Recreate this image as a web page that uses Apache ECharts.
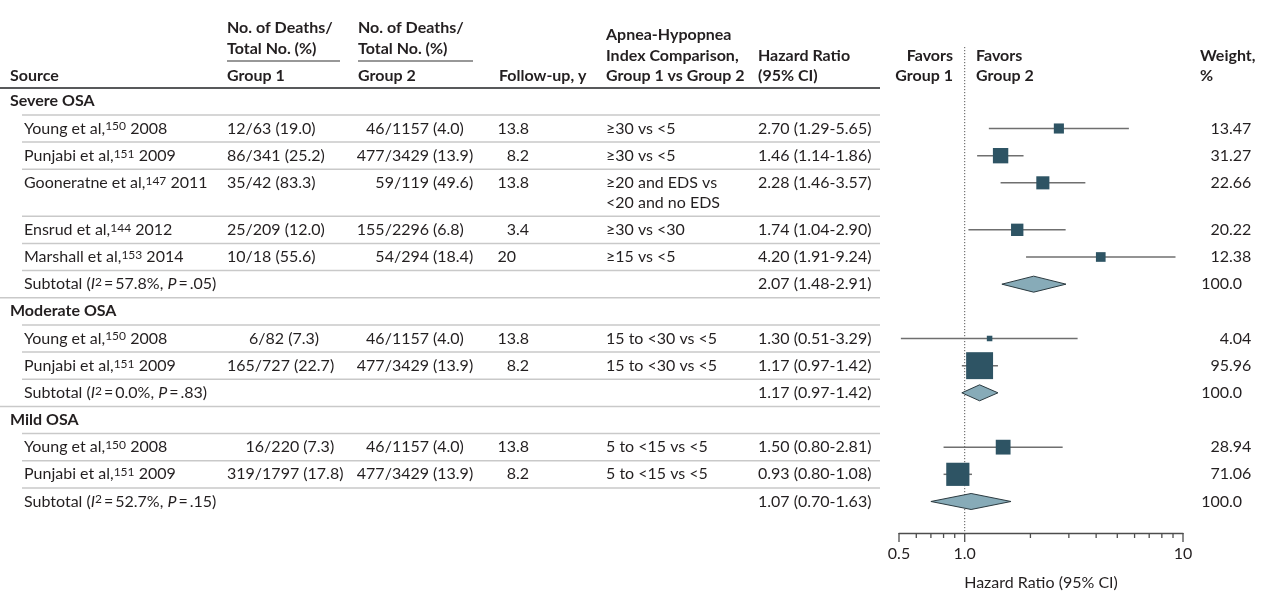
<!DOCTYPE html>
<html><head><meta charset="utf-8">
<script src="https://cdn.jsdelivr.net/npm/echarts@6/dist/echarts.min.js"></script>
<style>html,body{margin:0;padding:0;background:#fff}#chart{width:1265px;height:596px}</style>
</head><body><div id="chart"></div>
<script>
// ---------------- DATA ----------------
const groupNames = ['Severe OSA', 'Moderate OSA', 'Mild OSA'];
const studyGroup = [0, 0, 0, 0, 0, 1, 1, 2, 2];
const studyAuthors = ['Young et al,', 'Punjabi et al,', 'Gooneratne et al,', 'Ensrud et al,', 'Marshall et al,', 'Young et al,', 'Punjabi et al,', 'Young et al,', 'Punjabi et al,'];
const studyRefs = ['150', '151', '147', '144', '153', '150', '151', '150', '151'];
const studyYears = ['2008', '2009', '2011', '2012', '2014', '2008', '2009', '2008', '2009'];
const group1Deaths = ['12/63 (19.0)', '86/341 (25.2)', '35/42 (83.3)', '25/209 (12.0)', '10/18 (55.6)', '\u2007\u2007\u20086/82 (7.3)', '165/727 (22.7)', '\u2007\u200716/220 (7.3)', '319/1797 (17.8)'];
const group2Deaths = ['46/1157 (4.0)', '477/3429 (13.9)', '59/119 (49.6)', '155/2296 (6.8)', '54/294 (18.4)', '46/1157 (4.0)', '477/3429 (13.9)', '46/1157 (4.0)', '477/3429 (13.9)'];
const followUp = ['13.8', '8.2', '13.8', '3.4', '20', '13.8', '8.2', '13.8', '8.2'];
const ahiComparison = ['\u226530 vs <5', '\u226530 vs <5', '\u226520 and EDS vs\n<20 and no EDS', '\u226530 vs <30', '\u226515 vs <5', '15 to <30 vs <5', '15 to <30 vs <5', '5 to <15 vs <5', '5 to <15 vs <5'];
const studyHR = [2.70, 1.46, 2.28, 1.74, 4.20, 1.30, 1.17, 1.50, 0.93];
const studyLower = [1.29, 1.14, 1.46, 1.04, 1.91, 0.51, 0.97, 0.80, 0.80];
const studyUpper = [5.65, 1.86, 3.57, 2.90, 9.24, 3.29, 1.42, 2.81, 1.08];
const studyWeight = [13.47, 31.27, 22.66, 20.22, 12.38, 4.04, 95.96, 28.94, 71.06];
const subtotalI2 = ['57.8', '0.0', '52.7'];
const subtotalP = ['.05', '.83', '.15'];
const subtotalHR = [2.07, 1.17, 1.07];
const subtotalLower = [1.48, 0.97, 0.70];
const subtotalUpper = [2.91, 1.42, 1.63];
const subtotalWeight = [100.0, 100.0, 100.0];
const axisTickValues = [0.5, 0.6, 0.7, 0.8, 0.9, 1, 2, 3, 4, 5, 6, 7, 8, 9, 10];
const axisLabelValues = [0.5, 1, 10];
const axisLabelTexts = ['0.5', '1.0', '10'];

// ---------------- LAYOUT ----------------
const FONT = 'Lato, "Open Sans", sans-serif';
const FS = 16;
const TEXT = '#231f20';
const LINE_UNIT = 20 / 27.4;   // extra text line, in row units
const Y_MIN = -1.5;

const rows = [];
let pos = 0;
groupNames.forEach((g, gi) => {
  rows.push({ type: 'group', gi, top: pos }); pos += 1;
  studyGroup.forEach((sg, si) => {
    if (sg !== gi) return;
    const lines = ahiComparison[si].split('\n').length;
    rows.push({ type: 'study', si, top: pos });
    pos += 1 + (lines - 1) * LINE_UNIT;
  });
  rows.push({ type: 'subtotal', gi, top: pos }); pos += 1;
});
const Y_MAX = pos + 0.66;

const forestData = [];
rows.forEach(r => {
  if (r.type === 'study') forestData.push([studyHR[r.si], r.top + 0.5, studyLower[r.si], studyUpper[r.si], studyWeight[r.si], 0]);
  if (r.type === 'subtotal') forestData.push([subtotalHR[r.gi], r.top + 0.5, subtotalLower[r.gi], subtotalUpper[r.gi], subtotalWeight[r.gi], 1]);
});

function txt(x, y, text, align, extra) {
  return { type: 'text', x, y, style: Object.assign({ text, fill: TEXT, fontSize: FS, fontFamily: FONT, align: align || 'left', verticalAlign: 'middle' }, extra || {}) };
}
const richBase = {
  n: { fontSize: FS, fontFamily: FONT, fill: TEXT },
  i: { fontSize: FS, fontFamily: FONT, fill: TEXT, fontStyle: 'italic' },
  s: { fontSize: 12, fontFamily: FONT, fill: TEXT, verticalAlign: 'top', lineHeight: 12 }
};
const fmt2 = v => v.toFixed(2);

function renderTable(params, api) {
  const r = rows[params.dataIndex];
  const yTop = api.coord([1, r.top])[1];
  const yc = api.coord([1, r.top + 0.5])[1];
  const gap = api.coord([1, r.top + 0.5 + LINE_UNIT])[1] - yc;
  const ch = [];
  if (r.top > 0) {
    ch.push({ type: 'line', shape: { x1: r.type === 'group' ? 0 : 22, y1: yTop, x2: 880, y2: yTop }, style: { stroke: '#c9c9c9', lineWidth: 1.5 } });
  }
  if (r.type === 'group') {
    ch.push(txt(10, yc, groupNames[r.gi], 'left', { fontWeight: 'bold' }));
  } else if (r.type === 'study') {
    const i = r.si;
    ch.push({ type: 'text', x: 24, y: yc, style: { text: '{n|' + studyAuthors[i] + '}{s|' + studyRefs[i] + '}{n| ' + studyYears[i] + '}', rich: richBase, align: 'left', verticalAlign: 'middle', fill: TEXT, fontSize: FS, fontFamily: FONT } });
    ch.push(txt(227, yc, group1Deaths[i]));
    const g2 = group2Deaths[i].split(' (');
    ch.push(txt(429, yc, g2[0], 'right'));
    ch.push(txt(433, yc, '(' + g2[1]));
    const fu = followUp[i].split('.');
    ch.push(txt(516, yc, fu[0], 'right'));
    if (fu.length > 1) ch.push(txt(516, yc, '.' + fu[1]));
    ahiComparison[i].split('\n').forEach((t, k) => ch.push(txt(606, yc + k * gap, t)));
    ch.push(txt(758, yc, fmt2(studyHR[i]) + ' (' + fmt2(studyLower[i]) + '-' + fmt2(studyUpper[i]) + ')'));
    const w = fmt2(studyWeight[i]).split('.');
    ch.push(txt(1229, yc, w[0], 'right'));
    ch.push(txt(1229, yc, '.' + w[1]));
  } else {
    const g = r.gi;
    ch.push({ type: 'text', x: 24, y: yc, style: { text: '{n|Subtotal (}{i|I}{s|2}{n|\u2009=\u2009' + subtotalI2[g] + '%, }{i|P}{n|\u2009=\u2009' + subtotalP[g] + ')}', rich: richBase, align: 'left', verticalAlign: 'middle', fill: TEXT, fontSize: FS, fontFamily: FONT } });
    ch.push(txt(758, yc, fmt2(subtotalHR[g]) + ' (' + fmt2(subtotalLower[g]) + '-' + fmt2(subtotalUpper[g]) + ')'));
    const w = subtotalWeight[g].toFixed(1).split('.');
    ch.push(txt(1229, yc, w[0], 'right'));
    ch.push(txt(1229, yc, '.' + w[1]));
  }
  return { type: 'group', children: ch };
}

function renderForest(params, api) {
  const hr = api.value(0), y = api.value(1), lo = api.value(2), hi = api.value(3), w = api.value(4), kind = api.value(5);
  const c = api.coord([hr, y]), l = api.coord([lo, y]), h = api.coord([hi, y]);
  if (kind === 1) {
    return { type: 'polygon', shape: { points: [[l[0], c[1]], [c[0], c[1] - 8], [h[0], c[1]], [c[0], c[1] + 8]] }, style: { fill: '#87abb8', stroke: '#2b3a40', lineWidth: 1 } };
  }
  const s = 2.75 * Math.sqrt(w);
  return { type: 'group', children: [
    { type: 'line', shape: { x1: l[0], y1: c[1], x2: h[0], y2: c[1] }, style: { stroke: '#6f6f6f', lineWidth: 1.5 } },
    { type: 'rect', shape: { x: c[0] - s / 2, y: c[1] - s / 2, width: s, height: s }, style: { fill: '#2e5464' } }
  ] };
}

function renderTicks(params, api) {
  const v = api.value(0);
  const p = api.coord([v, Y_MAX]);
  const li = axisLabelValues.indexOf(v);
  const ch = [{ type: 'line', shape: { x1: p[0], y1: p[1], x2: p[0], y2: p[1] + (li >= 0 ? 9 : 5) }, style: { stroke: '#4d4d4d', lineWidth: 1.3 } }];
  if (li >= 0) ch.push(txt(p[0], p[1] + 21, axisLabelTexts[li], 'center'));
  return { type: 'group', children: ch };
}

function hText(x, y, text, align, bold) {
  return { type: 'text', x, y, style: { text, fill: TEXT, fontSize: FS, fontFamily: FONT, fontWeight: bold === false ? 'normal' : 'bold', align: align || 'left', verticalAlign: 'middle' } };
}
const headerElements = [
  hText(10, 76, 'Source'),
  hText(227, 28, 'No. of Deaths/'), hText(227, 49, 'Total No. (%)'), hText(227, 76, 'Group 1'),
  hText(358, 28, 'No. of Deaths/'), hText(358, 49, 'Total No. (%)'), hText(358, 76, 'Group 2'),
  hText(499, 76, 'Follow-up, y'),
  hText(606, 35, 'Apnea-Hypopnea'), hText(606, 56, 'Index Comparison,'), hText(606, 76, 'Group 1 vs Group 2'),
  hText(758, 56, 'Hazard Ratio'), hText(758, 76, '(95% CI)'),
  hText(953, 56, 'Favors', 'right'), hText(953, 76, 'Group 1', 'right'),
  hText(976, 56, 'Favors'), hText(976, 76, 'Group 2'),
  hText(1200, 56, 'Weight,'), hText(1200, 76, '%'),
  { type: 'line', shape: { x1: 227, y1: 61, x2: 340, y2: 61 }, style: { stroke: '#333', lineWidth: 1.2 } },
  { type: 'line', shape: { x1: 358, y1: 61, x2: 473, y2: 61 }, style: { stroke: '#333', lineWidth: 1.2 } },
  { type: 'line', shape: { x1: 0, y1: 88, x2: 880, y2: 88 }, style: { stroke: '#58595b', lineWidth: 2.2 } }
];

const chart = echarts.init(document.getElementById('chart'), null, { renderer: 'canvas' });
chart.setOption({
  animation: false,
  backgroundColor: '#ffffff',
  graphic: { elements: headerElements },
  grid: { left: 899, right: 82, top: 47, bottom: 59, containLabel: false },
  xAxis: {
    type: 'log', logBase: 10, min: 0.5, max: 10, position: 'bottom',
    axisLine: { show: true, onZero: false, lineStyle: { color: '#4d4d4d', width: 1.3 } },
    axisTick: { show: false }, axisLabel: { show: false }, splitLine: { show: false },
    name: 'Hazard Ratio (95% CI)', nameLocation: 'middle', nameGap: 42,
    nameTextStyle: { fontSize: FS, fontFamily: FONT, color: TEXT }
  },
  yAxis: { type: 'value', min: Y_MIN, max: Y_MAX, inverse: true, show: false },
  series: [
    { type: 'line', data: [[1, Y_MIN], [1, Y_MAX]], symbol: 'none', silent: true,
      lineStyle: { color: '#555', width: 1, type: [1.2, 1.8] }, z: 1 },
    { type: 'custom', data: rows.map(r => [1, r.top + 0.5]), renderItem: renderTable, clip: false, silent: true, z: 2 },
    { type: 'custom', data: forestData, renderItem: renderForest, encode: { x: [0, 2, 3], y: 1 }, clip: false, silent: true, z: 3 },
    { type: 'custom', data: axisTickValues.map(v => [v, Y_MAX]), renderItem: renderTicks, clip: false, silent: true, z: 3 }
  ]
});
</script></body></html>
